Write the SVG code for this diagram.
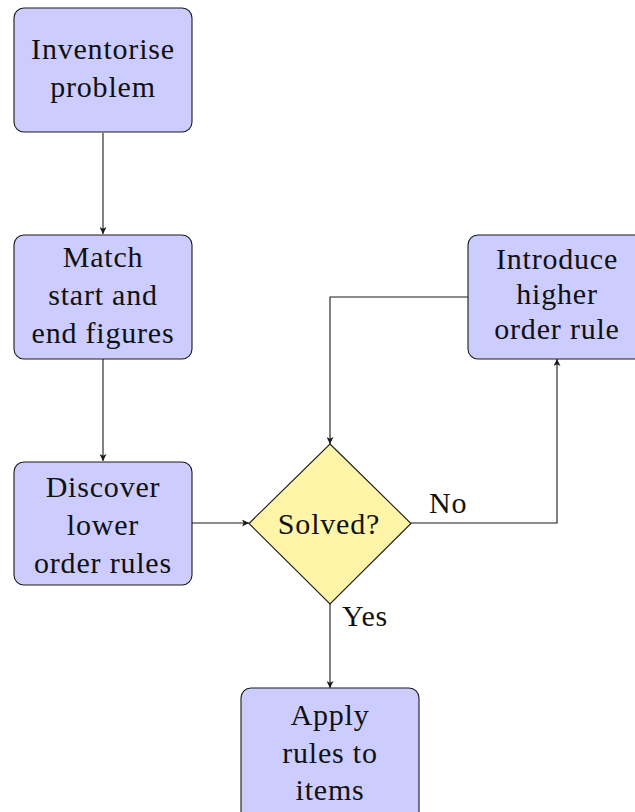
<svg xmlns="http://www.w3.org/2000/svg" width="635" height="812" viewBox="0 0 635 812" font-family="Liberation Serif, DejaVu Serif, serif">
<style>
.box{fill:#ccccff;stroke:#1a1a1a;stroke-width:1.1}
.dia{fill:#fff5a8;stroke:#1a1a1a;stroke-width:1.1}
text{font-family:"Liberation Serif","DejaVu Serif",serif;font-size:30px;fill:#111;letter-spacing:0.8px}
.t{text-anchor:middle}
.c{fill:none;stroke:#1a1a1a;stroke-width:1.1}
</style>
<defs>
<marker id="ah" viewBox="0 0 10 10" refX="10" refY="5" markerWidth="7" markerHeight="7" markerUnits="userSpaceOnUse" orient="auto">
<path d="M0,0 L10,5 L0,10 L2.5,5 Z" fill="#1a1a1a"/>
</marker>
</defs>
<rect width="635" height="812" fill="#ffffff"/>
<g id="connectors">
<path class="c" d="M103,133 V234" marker-end="url(#ah)"/>
<path class="c" d="M103,359 V461" marker-end="url(#ah)"/>
<path class="c" d="M192,523 H249" marker-end="url(#ah)"/>
<path class="c" d="M411,523 H557 V359" marker-end="url(#ah)"/>
<path class="c" d="M468,297 H330 V444" marker-end="url(#ah)"/>
<path class="c" d="M330,604 V688" marker-end="url(#ah)"/>
<text x="429" y="513" font-family="Liberation Serif, serif">No</text>
<text x="342" y="626" font-family="Liberation Serif, serif">Yes</text>
</g>
<g id="inventorise">
<rect class="box" x="14" y="8" width="178" height="124" rx="10"/>
<text class="t" x="103" y="59">Inventorise</text>
<text class="t" x="103" y="97">problem</text>
</g>
<g id="match">
<rect class="box" x="14" y="235" width="178" height="124" rx="10"/>
<text class="t" x="103" y="267">Match</text>
<text class="t" x="103" y="305">start and</text>
<text class="t" x="103" y="343">end figures</text>
</g>
<g id="discover">
<rect class="box" x="14" y="462" width="178" height="123" rx="10"/>
<text class="t" x="103" y="497">Discover</text>
<text class="t" x="103" y="535">lower</text>
<text class="t" x="103" y="573">order rules</text>
</g>
<g id="introduce">
<rect class="box" x="468" y="235" width="178" height="124" rx="10"/>
<text class="t" x="557" y="269">Introduce</text>
<text class="t" x="557" y="304">higher</text>
<text class="t" x="557" y="339">order rule</text>
</g>
<g id="solved">
<polygon class="dia" points="330,444 411,523.5 330,604 249,523.5"/>
<text class="t" x="329" y="534">Solved?</text>
</g>
<g id="apply">
<rect class="box" x="241" y="688" width="178" height="135" rx="10"/>
<text class="t" x="330" y="725">Apply</text>
<text class="t" x="330" y="763">rules to</text>
<text class="t" x="330" y="800">items</text>
</g>
</svg>
